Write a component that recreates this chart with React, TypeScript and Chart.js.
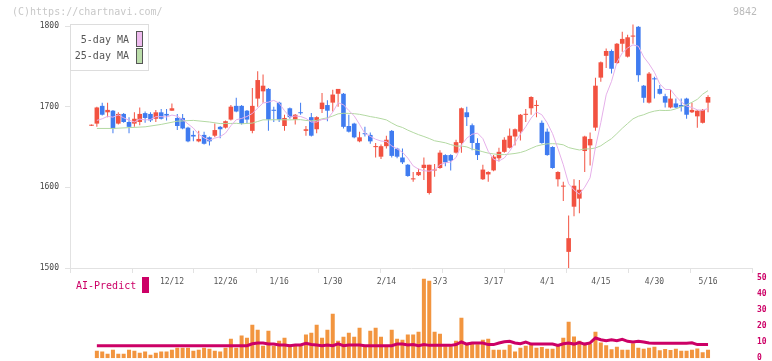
import { useEffect, useRef } from 'react';
import { Chart, registerables } from 'chart.js';

Chart.register(...registerables);

// ---- data (index 0 = first session, 12/12 = index 15, 5/16 = index 115) ----
const opens = [1677,1679,1701,1693,1695,1679,1691,1681,1679,1681,
  1692,1691,1685,1693,1691,1695,1686,1686,1674,1665,
  1657,1665,1662,1664,1675,1674,1684,1701,1701,1695,
  1670,1710,1719,1722,1696,1705,1676,1698,1684,1693,
  1670,1687,1672,1697,1702,1705,1716,1716,1676,1679,
  1657,1667,1665,1650,1638,1651,1670,1648,1637,1628,
  1610,1615,1624,1593,1621,1624,1640,1640,1643,1655,
  1693,1677,1655,1610,1616,1621,1636,1644,1649,1663,
  1669,1690,1698,1701,1680,1669,1650,1610,1601,1520,
  1576,1586,1645,1652,1674,1736,1763,1769,1754,1778,
  1762,1787,1799,1726,1705,1735,1722,1713,1699,1704,
  1702,1710,1693,1688,1680,1705];
const highs = [1678,1700,1705,1705,1696,1693,1692,1687,1693,1699,
  1694,1693,1696,1697,1697,1704,1691,1691,1675,1670,
  1670,1669,1663,1679,1676,1683,1702,1711,1702,1696,
  1723,1744,1740,1723,1700,1706,1690,1699,1691,1705,
  1676,1692,1688,1717,1708,1721,1722,1717,1690,1680,
  1669,1675,1668,1655,1653,1664,1671,1649,1648,1629,
  1619,1623,1637,1628,1629,1646,1641,1641,1659,1699,
  1700,1679,1661,1628,1620,1640,1649,1662,1673,1673,
  1691,1697,1713,1708,1683,1673,1651,1620,1607,1565,
  1610,1609,1664,1668,1736,1756,1772,1771,1779,1793,
  1789,1802,1800,1727,1743,1737,1727,1716,1721,1710,
  1710,1711,1705,1696,1697,1714];
const lows = [1676,1675,1689,1687,1667,1678,1680,1667,1675,1677,
  1680,1681,1681,1684,1683,1695,1671,1672,1656,1657,
  1656,1653,1652,1662,1661,1673,1683,1693,1678,1679,
  1667,1700,1705,1670,1681,1681,1670,1685,1678,1690,
  1664,1663,1667,1692,1682,1694,1700,1673,1668,1661,
  1656,1663,1654,1637,1635,1648,1637,1636,1629,1613,
  1607,1614,1609,1591,1613,1623,1626,1621,1642,1643,
  1676,1646,1634,1609,1607,1620,1632,1643,1648,1652,
  1658,1681,1690,1687,1654,1639,1623,1601,1583,1500,
  1564,1568,1619,1627,1670,1731,1748,1741,1753,1768,
  1761,1778,1731,1705,1704,1710,1715,1699,1698,1698,
  1694,1685,1692,1674,1679,1693];
const closes = [1677,1699,1690,1696,1673,1691,1681,1675,1685,1691,
  1686,1683,1693,1685,1689,1698,1676,1673,1657,1663,
  1660,1654,1657,1671,1672,1682,1700,1694,1679,1684,
  1701,1733,1726,1684,1695,1684,1686,1687,1690,1692,
  1672,1664,1687,1705,1695,1715,1722,1675,1669,1662,
  1662,1666,1657,1651,1651,1659,1639,1638,1631,1614,
  1611,1619,1628,1628,1622,1643,1631,1633,1656,1698,
  1687,1655,1640,1622,1619,1638,1644,1659,1664,1672,
  1690,1691,1712,1702,1655,1640,1624,1619,1602,1537,
  1602,1597,1663,1660,1726,1755,1769,1747,1778,1784,
  1786,1788,1739,1711,1741,1734,1716,1705,1710,1699,
  1700,1690,1696,1695,1696,1712];
const ma5 = [null,1683,1685,1688,1687.0,1689.8,1686.2,1683.2,1681.0,1684.6,
  1683.6,1684.0,1687.6,1687.6,1687.2,1689.6,1688.2,1684.2,1678.6,1673.4,
  1665.8,1661.4,1658.2,1661.0,1662.8,1667.2,1676.4,1683.8,1685.4,1687.8,
  1691.6,1698.2,1704.6,1705.6,1707.8,1704.4,1695.0,1687.2,1688.4,1687.8,
  1685.4,1681.0,1681.0,1684.0,1684.6,1693.2,1704.8,1702.4,1695.2,1688.6,
  1678.0,1666.8,1663.2,1659.6,1657.4,1656.8,1651.4,1647.6,1643.6,1636.2,
  1626.6,1622.6,1620.6,1620.0,1621.6,1628.0,1630.4,1631.4,1637.0,1652.2,
  1661.0,1665.8,1667.2,1660.4,1644.6,1634.8,1632.6,1636.4,1644.8,1655.4,
  1665.8,1675.2,1685.8,1693.4,1690.0,1680.0,1666.6,1648.0,1628.0,1604.4,
  1596.8,1591.4,1600.2,1611.8,1649.6,1680.2,1714.6,1731.4,1755.0,1766.6,
  1772.8,1776.6,1775.0,1761.6,1753.0,1742.6,1728.2,1721.4,1721.2,1712.8,
  1706.0,1700.8,1699.0,1696.0,1695.4,1697.8];
const ma25 = [null,1673,null,null,1673,null,null,1674,null,null,
  1675,null,null,1678,null,null,1682,null,null,1683,
  null,null,1681,null,1679.0,1679.2,1679.2,1679.4,1678.7,1679.2,
  1679.6,1681.6,1683.7,1683.6,1683.8,1683.7,1683.8,1683.6,1683.8,1683.9,
  1682.9,1682.4,1683.0,1684.9,1686.2,1688.4,1691.1,1691.8,1691.7,1691.3,
  1690.5,1689.2,1687.7,1686.6,1685.2,1683.6,1679.8,1676.3,1674.2,1670.9,
  1668.0,1665.3,1663.0,1660.5,1657.7,1656.5,1655.2,1653.0,1651.1,1651.2,
  1650.1,1647.4,1646.0,1644.1,1642.4,1641.4,1640.6,1640.6,1641.2,1642.0,
  1643.2,1645.3,1648.3,1651.1,1652.8,1653.9,1654.1,1653.8,1652.7,1649.3,
  1647.7,1646.3,1647.5,1647.7,1648.8,1651.5,1656.1,1660.4,1666.6,1673.2,
  1679.1,1684.9,1688.1,1690.0,1692.7,1694.5,1695.5,1695.2,1695.5,1697.3,
  1699.7,1702.3,1705.4,1709.1,1715.5,1719.9];
const volumes = [null,4.7,4.1,2.8,5.3,2.8,2.8,5.3,4.7,3.4,
  4.1,2.2,3.4,4.1,4.1,5.3,6.5,6.5,6.5,4.7,
  5.3,6.5,5.9,4.7,4.1,6.5,12.2,6.5,14.2,12.8,
  20.9,17.8,7.8,17.1,7.8,10.9,12.8,8.5,8.5,7.8,
  14.7,15.9,20.9,12.8,17.8,27.7,10.9,13.4,15.9,13.4,
  19.0,7.8,17.1,19.0,13.4,7.8,17.8,12.2,11.5,14.7,
  14.7,16.5,49.6,48.3,16.5,15.3,7.5,7.5,10.9,25.2,
  9.0,10.0,8.7,11.5,12.2,5.3,5.3,5.3,8.4,4.1,
  6.5,7.8,8.4,6.5,7.0,5.9,5.9,8.7,12.8,22.8,
  13.5,10.9,8.7,9.0,16.5,9.8,8.0,5.6,7.2,5.3,
  5.3,9.3,6.5,5.9,6.5,7.2,5.0,5.7,5.1,5.9,
  4.7,4.7,5.3,6.0,3.7,5.3];
const predict = [null,7.8,7.8,7.8,7.8,7.8,7.8,7.8,7.8,7.8,
  7.8,7.8,7.8,7.8,7.8,7.8,7.8,7.8,7.8,7.8,
  7.8,7.8,7.8,7.8,7.8,7.8,7.8,7.8,7.8,7.8,
  9.0,9.5,9.5,8.8,8.8,8.2,8.2,7.8,8.2,8.2,
  9.3,8.5,8.2,7.8,8.2,7.8,9.0,7.8,8.2,8.2,
  8.2,7.8,7.8,7.8,7.8,7.8,7.8,8.8,8.8,8.2,
  8.5,7.8,8.5,8.0,8.0,8.0,8.0,8.0,8.5,10.1,
  8.8,9.5,9.5,9.5,8.5,8.5,9.5,10.3,10.5,9.5,
  9.0,10.1,8.8,8.8,8.8,8.8,8.8,8.0,9.0,9.5,
  8.8,9.8,8.8,9.5,12.6,11.5,10.9,11.5,10.9,11.8,
  10.5,10.1,10.5,10.1,9.5,9.3,9.3,9.3,9.3,9.3,
  9.3,9.3,9.6,8.5,8.5,8.5];
const dateLabels = ['12/12','12/26','1/16','1/30','2/14','3/3','3/17','4/1','4/15','4/30','5/16'];
const dateIdx = [15,25,35,45,55,65,75,85,95,105,115];
const priceTicks = [1500,1600,1700,1800];
const volTicks = [0,10,20,30,40,50];

// ---- styling ----
const X_MIN = -4.01;
const X_MAX = 123.2;
const UP = '#f25241';
const DOWN = '#3f7bf0';
const FONT = "'DejaVu Sans Mono', monospace";
const AXIS = '#e2e2e2';

const pts = (arr: (number | null)[]) =>
  arr.map((v, i) => (v == null ? null : { x: i, y: v })).filter(Boolean) as { x: number; y: number }[];

export default function App() {
  const priceRef = useRef<HTMLCanvasElement>(null);
  const volRef = useRef<HTMLCanvasElement>(null);

  useEffect(() => {
    Chart.defaults.font.family = FONT;
    const colorOf = (i: number) => (closes[i] >= opens[i] ? UP : DOWN);
    const bodies = opens.map((o, i) => {
      const c = closes[i];
      let lo = Math.min(o, c);
      let hi = Math.max(o, c);
      if (hi - lo < 1.3) {
        const m = (hi + lo) / 2;
        lo = m - 0.65;
        hi = m + 0.65;
      }
      return { x: i, y: [lo, hi] };
    });
    const wicks = opens.map((_, i) => ({ x: i, y: [lows[i], highs[i]] }));
    const gridTicks = Array.from({ length: 12 }, (_, k) => ({ value: X_MIN + (k * (X_MAX - X_MIN)) / 11 }));

    const price = new Chart(priceRef.current!, {
      type: 'bar',
      data: {
        datasets: [
          { type: 'line', data: pts(ma5), borderColor: '#e6b0ea', borderWidth: 1, pointRadius: 0, order: 0, tension: 0 } as any,
          { type: 'line', data: pts(ma25), borderColor: '#b3d9a2', borderWidth: 1, pointRadius: 0, order: 0, tension: 0 } as any,
          {
            type: 'bar', data: bodies as any, backgroundColor: (ctx: any) => colorOf(ctx.dataIndex ?? 0),
            barThickness: 4.6, inflateAmount: 0, grouped: false, order: 1, clip: false,
          } as any,
          {
            type: 'bar', data: wicks as any, backgroundColor: (ctx: any) => colorOf(ctx.dataIndex ?? 0),
            barThickness: 1, inflateAmount: 0, grouped: false, order: 2, clip: false,
          } as any,
        ],
      },
      options: {
        animation: false,
        responsive: false,
        events: [],
        layout: { padding: { left: 8, right: 20, top: 26, bottom: 5 } },
        plugins: { legend: { display: false }, tooltip: { enabled: false } },
        scales: {
          x: {
            type: 'linear', min: X_MIN, max: X_MAX, bounds: 'data', offset: false, weight: 0,
            grid: { display: true, drawOnChartArea: false, drawTicks: true, tickLength: 5, color: AXIS, offset: false },
            border: { display: true, color: AXIS },
            ticks: { display: false },
            afterBuildTicks: (s: any) => { s.ticks = gridTicks.map(t => ({ ...t })); },
            afterFit: (s: any) => { s.height = 5; },
          },
          x2: {
            type: 'linear', position: 'bottom', min: X_MIN, max: X_MAX, bounds: 'data', offset: false, weight: 1,
            grid: { display: false, drawTicks: false },
            border: { display: false },
            ticks: {
              autoSkip: false, maxRotation: 0, padding: 4, color: '#555',
              font: { family: FONT, size: 8 },
              callback: (_v: any, i: number) => dateLabels[i] ?? '',
            },
            afterBuildTicks: (s: any) => { s.ticks = dateIdx.map(v => ({ value: v })); },
            afterFit: (s: any) => { s.height = 22; },
          },
          y: {
            type: 'linear', position: 'left', min: 1500, max: 1800, beginAtZero: false, bounds: 'data',
            grid: { drawOnChartArea: false, drawTicks: true, tickLength: 5, color: AXIS },
            border: { display: true, color: AXIS },
            ticks: {
              stepSize: 100, padding: 6, color: '#444', font: { family: FONT, size: 8 }, autoSkip: false,
              callback: (v: any) => String(v),
            },
            afterBuildTicks: (s: any) => { s.ticks = priceTicks.map(v => ({ value: v })); },
            afterFit: (s: any) => { s.width = 62; },
          },
        } as any,
      },
    });

    const vol = new Chart(volRef.current!, {
      type: 'bar',
      data: {
        datasets: [
          { type: 'line', data: pts(predict), borderColor: '#cc0066', borderWidth: 3, pointRadius: 0, order: 0, tension: 0 } as any,
          { type: 'bar', data: pts(volumes) as any, backgroundColor: '#f2953f', barThickness: 4, inflateAmount: 0, order: 1 } as any,
        ],
      },
      options: {
        animation: false,
        responsive: false,
        events: [],
        layout: { padding: { left: 70, right: 0, top: 10, bottom: 9 } },
        plugins: { legend: { display: false }, tooltip: { enabled: false } },
        scales: {
          x: { type: 'linear', min: X_MIN, max: X_MAX, bounds: 'data', offset: false, display: false },
          y: {
            type: 'linear', position: 'right', min: 0, max: 50, bounds: 'data',
            grid: { display: false, drawTicks: false },
            border: { display: false },
            ticks: {
              stepSize: 10, padding: 5, color: '#cc0066', font: { family: FONT, size: 8, weight: 'bold' }, autoSkip: false,
              callback: (v: any) => String(v),
            },
            afterBuildTicks: (s: any) => { s.ticks = volTicks.map(v => ({ value: v })); },
            afterFit: (s: any) => { s.width = 20; },
          },
        } as any,
      },
    });

    return () => {
      price.destroy();
      vol.destroy();
    };
  }, []);

  const txt = (extra: React.CSSProperties): React.CSSProperties => ({
    position: 'absolute', fontFamily: FONT, fontSize: 10, lineHeight: '12px', whiteSpace: 'nowrap', ...extra,
  });

  return (
    <div style={{ position: 'absolute', left: 0, top: 0, width: 772, height: 361, overflow: 'hidden', background: '#fff' }}>
      <canvas ref={priceRef} width={772} height={300} style={{ position: 'absolute', left: 0, top: 0 }} />
      <canvas ref={volRef} width={772} height={100} style={{ position: 'absolute', left: 0, top: 268 }} />
      <div style={txt({ left: 12, top: 6, color: '#c8c8c8' })}>(C)https://chartnavi.com/</div>
      <div style={txt({ left: 733, top: 6, color: '#bbbbbb' })}>9842</div>
      <div style={{ position: 'absolute', left: 70, top: 24, width: 79, height: 47, border: '1px solid #dddddd', boxSizing: 'border-box', background: '#fff' }} />
      <div style={txt({ left: 0, width: 129, top: 34, textAlign: 'right', color: '#555' })}>5-day MA</div>
      <div style={{ position: 'absolute', left: 136, top: 31, width: 7, height: 16, border: '1px solid #555', boxSizing: 'border-box', background: '#eebbee' }} />
      <div style={txt({ left: 0, width: 129, top: 50, textAlign: 'right', color: '#555' })}>25-day MA</div>
      <div style={{ position: 'absolute', left: 136, top: 48, width: 7, height: 16, border: '1px solid #555', boxSizing: 'border-box', background: '#bbddaa' }} />
      <div style={txt({ left: 76, top: 280, color: '#cc0066' })}>AI-Predict</div>
      <div style={{ position: 'absolute', left: 142, top: 277, width: 7, height: 16, background: '#cc0066' }} />
    </div>
  );
}
